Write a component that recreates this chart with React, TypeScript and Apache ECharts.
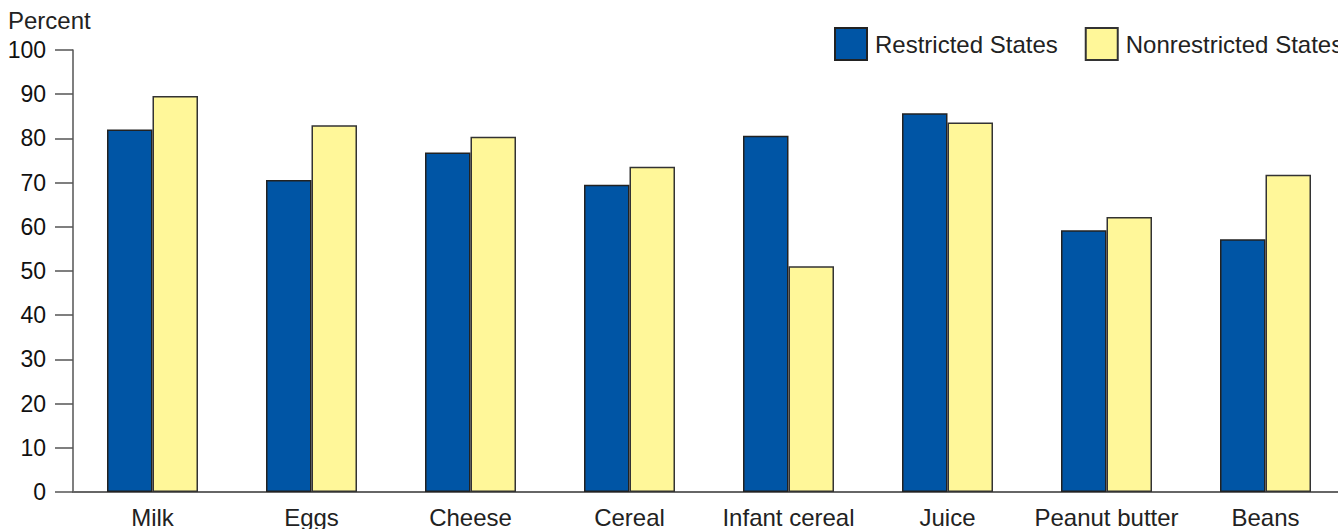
import React, { useEffect, useRef } from "react";
import * as echarts from "echarts";

const categories = ["Milk", "Eggs", "Cheese", "Cereal", "Infant cereal", "Juice", "Peanut butter", "Beans"];
const restricted = [82, 70.6, 76.8, 69.5, 80.6, 85.7, 59.2, 57.2];
const nonrestricted = [89.6, 83.0, 80.4, 73.6, 51.1, 83.6, 62.2, 71.8];
const seriesNames = ["Restricted States", "Nonrestricted States"];
const yTicks = { min: 0, max: 100, interval: 10 };

const FONT = "'Liberation Sans', Arial, Helvetica, sans-serif";

export default function App() {
  const ref = useRef<HTMLDivElement>(null);
  useEffect(() => {
    if (!ref.current) return;
    const chart = echarts.init(ref.current, null, { renderer: "svg" });
    chart.setOption({
      animation: false,
      textStyle: { fontFamily: FONT },
      graphic: [
        {
          type: "text",
          left: 8,
          top: 8,
          style: { text: "Percent", font: `24px ${FONT}`, fill: "#222" },
        },
      ],
      legend: {
        left: 834,
        top: 27,
        width: 520,
        padding: 0,
        orient: "horizontal",
        itemWidth: 32,
        itemHeight: 32,
        itemGap: 27,
        icon: "rect",
        textStyle: { fontSize: 24, color: "#222", fontFamily: FONT, padding: [0, 0, 0, 3] },
        data: seriesNames,
      },
      grid: { left: 73, top: 50, width: 1272, height: 444, containLabel: false },
      xAxis: {
        type: "category",
        data: categories,
        axisLine: { lineStyle: { color: "#666", width: 2 } },
        axisTick: { show: false },
        axisLabel: { fontSize: 24, color: "#222", margin: 13, fontFamily: FONT, interval: 0 },
      },
      yAxis: {
        type: "value",
        min: yTicks.min,
        max: yTicks.max,
        interval: yTicks.interval,
        splitLine: { show: false },
        axisLine: { show: true, lineStyle: { color: "#555", width: 1.5 } },
        axisTick: { show: true, length: 18, lineStyle: { color: "#555", width: 1.5 } },
        axisLabel: { fontSize: 23, color: "#111", margin: 27, fontFamily: FONT },
      },
      series: [
        {
          name: seriesNames[0],
          type: "bar",
          data: restricted,
          barWidth: 45.5,
          barGap: "0%",
          itemStyle: { color: "#0055A5", borderColor: "#222", borderWidth: 1.5 },
        },
        {
          name: seriesNames[1],
          type: "bar",
          data: nonrestricted,
          barWidth: 45.5,
          barGap: "0%",
          itemStyle: { color: "#FFF799", borderColor: "#333", borderWidth: 1.5 },
        },
      ],
    });
    return () => chart.dispose();
  }, []);
  return (
    <div style={{ position: "fixed", left: 0, top: 0, width: 1338, height: 529, overflow: "hidden", background: "#fff" }}>
      <div ref={ref} style={{ width: 1360, height: 529 }} />
    </div>
  );
}
